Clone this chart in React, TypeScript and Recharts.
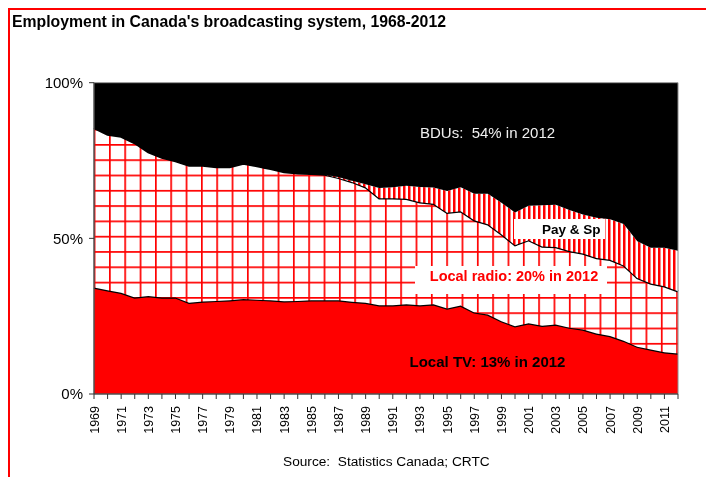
import { AreaChart, Area, XAxis, YAxis, ReferenceArea } from 'recharts';

const FONT = '"Liberation Sans", Arial, sans-serif';

// Share of broadcasting employment, % of total, by year
const years = [
  1969, 1970, 1971, 1972, 1973, 1974, 1975, 1976, 1977, 1978, 1979, 1980, 1981, 1982, 1983,
  1984, 1985, 1986, 1987, 1988, 1989, 1990, 1991, 1992, 1993, 1994, 1995, 1996, 1997, 1998,
  1999, 2000, 2001, 2002, 2003, 2004, 2005, 2006, 2007, 2008, 2009, 2010, 2011, 2012,
];

const localTv = [
  34.2, 33.3, 32.5, 31.0, 31.5, 31.0, 31.0, 29.3, 29.7, 29.9, 30.1, 30.5, 30.3, 30.1, 29.8,
  29.9, 30.1, 30.1, 30.1, 29.6, 29.3, 28.5, 28.5, 28.8, 28.5, 28.8, 27.5, 28.4, 26.2, 25.5,
  23.4, 21.8, 22.7, 21.9, 22.3, 21.3, 20.7, 19.4, 18.6, 17.1, 15.2, 14.3, 13.4, 13.0,
];

const localRadio = [
  51.3, 50.0, 50.2, 49.6, 46.2, 44.9, 43.8, 44.1, 43.7, 43.0, 42.8, 43.5, 42.9, 42.2, 41.5,
  41.0, 40.6, 40.4, 39.3, 38.5, 37.1, 34.4, 34.4, 33.9, 33.1, 32.3, 30.7, 30.3, 29.6, 29.0,
  27.9, 26.0, 26.7, 25.5, 24.9, 24.6, 24.4, 24.3, 24.5, 24.2, 22.1, 21.2, 21.2, 20.0,
];

const payAndSpecialty = [
  0, 0, 0, 0, 0, 0, 0, 0, 0, 0, 0, 0, 0, 0, 0,
  0, 0, 0, 0.3, 0.4, 1.0, 3.3, 3.5, 4.2, 4.9, 5.2, 7.0, 7.7, 8.5, 9.8,
  10.1, 10.5, 11.1, 13.2, 13.6, 13.2, 12.6, 12.9, 13.0, 13.3, 11.8, 11.5, 12.4, 13.0,
];

const bdus = [
  14.5, 16.7, 17.3, 19.4, 22.3, 24.1, 25.2, 26.6, 26.6, 27.1, 27.1, 26.0, 26.8, 27.7, 28.7,
  29.1, 29.3, 29.5, 30.3, 31.5, 32.6, 33.8, 33.6, 33.1, 33.5, 33.7, 34.8, 33.6, 35.7, 35.7,
  38.6, 41.7, 39.5, 39.4, 39.2, 40.9, 42.3, 43.4, 43.9, 45.4, 50.9, 53.0, 53.0, 54.0,
];

const yTicks = [0, 50, 100];

const rows = years.map((year, i) => ({
  year: String(year),
  tv: localTv[i],
  radio: localRadio[i],
  pay: payAndSpecialty[i],
  bdu: bdus[i],
}));

const last = years.length - 1;

// every year gets a tick mark, every other year a label
function YearTick(props: any) {
  const { x, y, payload, index } = props;
  if (index % 2 !== 0) return <g />;
  const tx = x + 4.5;
  return (
    <text
      x={tx}
      y={y}
      transform={`rotate(-90 ${tx} ${y})`}
      textAnchor="end"
      fontSize={12.5}
      fill="#000"
    >
      {payload.value}
    </text>
  );
}

export default function App() {
  return (
    <div style={{ position: 'relative', width: 690, height: 461, fontFamily: FONT }}>
      {/* red frame, top and left edges only */}
      <div
        style={{
          position: 'fixed',
          left: 8,
          top: 8,
          width: 698,
          height: 469,
          boxSizing: 'border-box',
          borderTop: '2px solid #ff0000',
          borderLeft: '2px solid #ff0000',
          pointerEvents: 'none',
        }}
      />
      <AreaChart
        width={690}
        height={461}
        data={rows}
        margin={{ top: 74.7, right: 20, bottom: 30, left: 0 }}
      >
        <defs>
          <pattern id="radioGrid" patternUnits="userSpaceOnUse" x={101} y={136} width={15.33} height={15.3}>
            <rect x={0} y={0} width={15.33} height={15.3} fill="#ffffff" />
            <rect x={0} y={0} width={1.7} height={15.3} fill="#ff0000" />
            <rect x={0} y={0} width={15.33} height={1.7} fill="#ff0000" />
          </pattern>
          <pattern id="payStripes" patternUnits="userSpaceOnUse" x={0} y={0} width={5} height={10}>
            <rect x={0} y={0} width={5} height={10} fill="#ffffff" />
            <rect x={0} y={0} width={2.5} height={10} fill="#ff0000" />
          </pattern>
        </defs>
        <XAxis
          dataKey="year"
          interval={0}
          height={45}
          tickSize={5}
          tickMargin={7}
          tick={<YearTick />}
          stroke="#333"
          tickLine={{ stroke: '#333' }}
        />
        <YAxis
          width={86}
          domain={[0, 100]}
          allowDataOverflow
          ticks={yTicks}
          tickFormatter={(v: number) => `${v}%`}
          tickSize={5}
          tickMargin={6}
          tick={{ fontSize: 15, fill: '#000' }}
          stroke="#333"
        />
        <Area
          dataKey="tv"
          stackId="share"
          type="linear"
          fill="#ff0000"
          fillOpacity={1}
          stroke="#000"
          strokeWidth={2.4}
          isAnimationActive={false}
        />
        <Area
          dataKey="radio"
          stackId="share"
          type="linear"
          fill="url(#radioGrid)"
          fillOpacity={1}
          stroke="#000"
          strokeWidth={2.4}
          isAnimationActive={false}
        />
        <Area
          dataKey="pay"
          stackId="share"
          type="linear"
          fill="url(#payStripes)"
          fillOpacity={1}
          stroke="none"
          isAnimationActive={false}
        />
        <Area
          dataKey="bdu"
          stackId="share"
          type="linear"
          fill="#000"
          fillOpacity={1}
          stroke="none"
          isAnimationActive={false}
        />
        <ReferenceArea
          x1={rows[0].year}
          x2={rows[last].year}
          y1={0}
          y2={100}
          fill="none"
          stroke="#8c8c8c"
          strokeWidth={1}
        />
      </AreaChart>

      <svg
        width={690}
        height={461}
        style={{ position: 'absolute', left: 0, top: 0, pointerEvents: 'none' }}
      >
        <text x={4} y={19} fontSize={15.8} fontWeight="bold" fill="#000">
          Employment in Canada's broadcasting system, 1968-2012
        </text>
        <text x={412} y={130} fontSize={15} fill="#f0f0f0" style={{ whiteSpace: 'pre' }}>
          {`BDUs:  ${bdus[last]}% in 2012`}
        </text>
        <rect x={506} y={211} width={91} height={20} fill="#ffffff" />
        <text x={534} y={226} fontSize={13.5} fontWeight="bold" fill="#000">
          Pay &amp; Sp
        </text>
        <rect x={407} y={258} width={192} height={28} fill="#ffffff" />
        <text x={506} y={273} fontSize={14.5} fontWeight="bold" fill="#ff0000" textAnchor="middle">
          {`Local radio: ${localRadio[last]}% in 2012`}
        </text>
        <text x={479.5} y={359} fontSize={15} fontWeight="bold" fill="#000" textAnchor="middle">
          {`Local TV: ${localTv[last]}% in 2012`}
        </text>
        <text x={275} y={458} fontSize={13.7} fill="#000" style={{ whiteSpace: 'pre' }}>
          Source:  Statistics Canada; CRTC
        </text>
      </svg>
    </div>
  );
}
